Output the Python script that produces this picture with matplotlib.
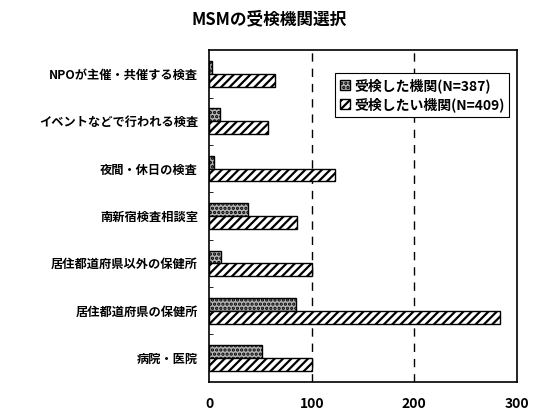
import matplotlib.pyplot as plt
import numpy as np

plt.rcParams['font.family'] = ['Noto Sans CJK JP', 'DejaVu Sans']
plt.rcParams['hatch.linewidth'] = 1.6

categories = ['NPOが主催・共催する検査', 'イベントなどで行われる検査', '夜間・休日の検査',
              '南新宿検査相談室', '居住都道府県以外の保健所', '居住都道府県の保健所', '病院・医院']
taken = [3, 11, 5, 38, 12, 85, 52]
wanted = [64, 57, 123, 86, 100, 284, 100]
series_labels = ['受検した機関(N=387)', '受検したい機関(N=409)']
xticks = [0, 100, 200, 300]

fig = plt.figure(figsize=(5.39, 4.11), dpi=100)
ax = fig.add_axes([0.388, 0.071, 0.571, 0.807])

n = len(categories)
y = np.arange(n)[::-1]
h = 0.27

ax.barh(y + h / 2, taken, height=h, color='#b4b4b4', edgecolor='black',
        hatch='....', linewidth=1.0, label=series_labels[0])
ax.barh(y - h / 2, wanted, height=h, color='white', edgecolor='black',
        hatch='////', linewidth=1.0, label=series_labels[1])

ax.set_xlim(0, 300)
ax.set_ylim(-0.5, n - 0.5)
ax.set_xticks(xticks)
ax.set_xticklabels([str(t) for t in xticks], fontsize=10, fontweight='bold')
ax.tick_params(axis='x', length=0, pad=11)
ax.set_yticks(y)
ax.set_yticklabels(categories, fontsize=8.8, fontweight='bold')
ax.tick_params(axis='y', length=0, pad=8)
ax.set_yticks(np.arange(n - 1) + 0.5, minor=True)
ax.tick_params(axis='y', which='minor', direction='in', length=3, color='black')

for xv in [100, 200]:
    ax.axvline(xv, color='black', linestyle=(0, (6, 5)), linewidth=1.0, zorder=0)

for s in ax.spines.values():
    s.set_linewidth(1.2)

leg = ax.legend(loc='upper right', bbox_to_anchor=(0.975, 0.93),
                prop={'size': 10, 'weight': 'bold'},
                frameon=True, fancybox=False, shadow=False, handlelength=0.7,
                handleheight=0.7, handletextpad=0.3, borderpad=0.35,
                labelspacing=0.3, borderaxespad=0)
leg.get_frame().set_edgecolor('black')
leg.get_frame().set_linewidth(0.8)
leg.get_frame().set_alpha(1)

fig.suptitle('MSMの受検機関選択', x=0.5, y=0.975, fontsize=12, fontweight='bold')

fig.savefig('out.png', dpi=100)
